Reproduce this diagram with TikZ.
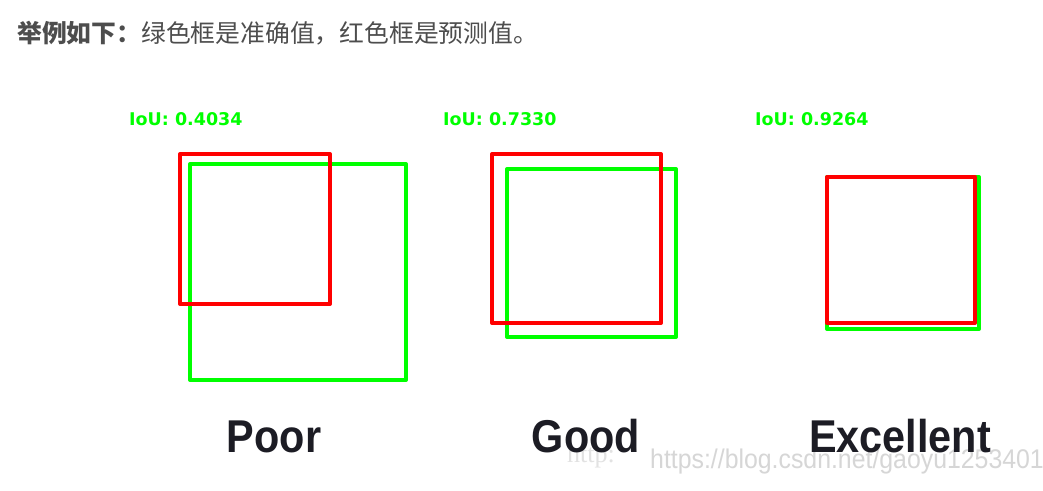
\documentclass[tikz,border=0pt]{standalone}
\usepackage{fontspec}
\setmainfont{Liberation Sans}
\newfontfamily\cjk{Noto Sans CJK SC}
\newfontfamily\dejab{DejaVu Sans}
\newfontfamily\libser{Liberation Serif}
\definecolor{gline}{HTML}{00FF00}
\definecolor{rline}{HTML}{FF0000}
\definecolor{titlec}{HTML}{4D4D4D}
\definecolor{labc}{HTML}{1C1C24}
\definecolor{wmc}{HTML}{D6D6D6}
\tikzset{
  gbox/.style={draw=gline, line width=4pt, line join=round, inner sep=0pt, outer sep=0pt, anchor=north west},
  rbox/.style={draw=rline, line width=4pt, line join=round, inner sep=0pt, outer sep=0pt, anchor=north west},
  ioulab/.style={text=gline, anchor=base west, inner sep=0pt, font=\dejab\bfseries\fontsize{17.5}{20}\selectfont},
  qlab/.style={text=labc, anchor=base, inner sep=0pt, xscale=0.9, font=\bfseries\fontsize{46}{52}\selectfont},
}
\begin{document}
\begin{tikzpicture}[x=1pt,y=-1pt]
\useasboundingbox[fill=white] (0,0) rectangle (1043,490);
% title
\node[anchor=base west, inner sep=0pt, text=titlec, font=\cjk\fontsize{24.8}{28}\selectfont] (title) at (17,42) {{\bfseries 举例如下：}绿色框是准确值，红色框是预测值。};
% IoU labels
\node[ioulab] (iou1) at (129,125) {IoU: 0.4034};
\node[ioulab] (iou2) at (443,125) {IoU: 0.7330};
\node[ioulab] (iou3) at (755,125) {IoU: 0.9264};
% Poor
\node[gbox, minimum width=216pt, minimum height=216pt] (g1) at (190,164) {};
\node[rbox, minimum width=150pt, minimum height=150pt] (r1) at (180,154) {};
% Good
\node[gbox, minimum width=169pt, minimum height=168pt] (g2) at (507,169) {};
\node[rbox, minimum width=169pt, minimum height=169pt] (r2) at (492,154) {};
% Excellent
\node[gbox, minimum width=152pt, minimum height=152pt] (g3) at (827,177) {};
\node[rbox, minimum width=148pt, minimum height=146pt] (r3) at (827,177) {};
% watermark
\node[anchor=base west, inner sep=0pt, text=wmc!70!white, font=\libser\fontsize{26}{30}\selectfont] (wm0) at (567,462) {http:};
\node[anchor=base west, inner sep=0pt, text=wmc, font=\fontsize{27}{30}\selectfont, xscale=0.92] (wm) at (650,468) {https://blog.csdn.net/gaoyu1253401};
% quality labels
\node[qlab] (poor) at (274,452) {Poor};
\node[qlab] (good) at (586,452) {Good};
\node[qlab] (exc) at (900,452) {Excellent};
\end{tikzpicture}
\end{document}
